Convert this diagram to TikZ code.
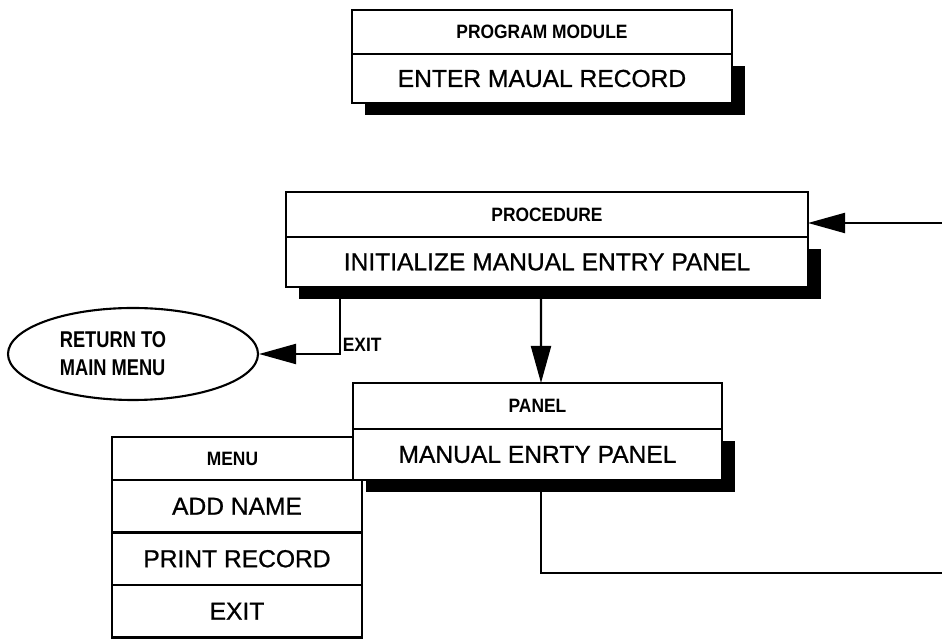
\documentclass[tikz,border=0pt]{standalone}
\usepackage{fontspec}
\setmainfont{Liberation Sans}[FakeBold=0.8]
\newfontfamily\capsbold[FakeStretch=0.9]{Liberation Sans}
\newfontfamily\ovalfont[FakeStretch=0.8]{Liberation Sans}
\usetikzlibrary{positioning,shapes.geometric,shadows,arrows.meta}

\begin{document}
\begin{tikzpicture}[
    hdr/.style={draw, fill=white, line width=1.2pt, outer sep=0pt, inner sep=0pt,
      font=\capsbold\bfseries\fontsize{11}{13}\selectfont},
    body/.style={draw, fill=white, line width=1.2pt, outer sep=0pt, inner sep=0pt,
      font=\fontsize{14}{16}\selectfont,
      drop shadow={shadow xshift=0.25cm, shadow yshift=-0.25cm, fill=black, opacity=1}},
    item/.style={draw, fill=white, line width=1.4pt, outer sep=0pt, inner sep=0pt,
      minimum width=5cm, minimum height=1.05cm, font=\fontsize{14}{16}\selectfont},
    link/.style={line width=1.2pt, -{Triangle[length=0.74cm,width=0.4cm]}}
  ]
			\useasboundingbox (0,0) rectangle (18.84,-12.8);
			% program module
			\node[hdr, anchor=north west, minimum width=7.6cm, minimum height=0.88cm] (pmhdr) at (7.04,-0.2) {PROGRAM MODULE};
			\node[body, below=0pt of pmhdr, minimum width=7.6cm, minimum height=0.98cm] (pmbody) {ENTER MAUAL RECORD};
			% procedure
			\node[hdr, anchor=north west, minimum width=10.44cm, minimum height=0.9cm] (prochdr) at (5.72,-3.84) {PROCEDURE};
			\node[body, below=0pt of prochdr, minimum width=10.44cm, minimum height=1cm] (procbody) {INITIALIZE MANUAL ENTRY PANEL};
			% panel
			\node[hdr, anchor=north west, minimum width=7.38cm, minimum height=0.92cm] (panelhdr) at (7.06,-7.66) {PANEL};
			\node[body, below=0pt of panelhdr, minimum width=7.38cm, minimum height=1.02cm] (panelbody) {MANUAL ENRTY PANEL};
			% menu
			\node[hdr, anchor=north west, minimum width=4.82cm, minimum height=0.86cm] (menuhdr) at (2.24,-8.74) {MENU};
			\node[item, anchor=north west] (addname) at (menuhdr.south west) {ADD NAME};
			\node[item, below=0pt of addname] (printrec) {PRINT RECORD};
			\node[item, below=0pt of printrec] (exititem) {EXIT};
			% return oval
			\node[draw, ellipse, line width=1.2pt, minimum width=5cm, minimum height=1.84cm, align=left,
			  font=\ovalfont\bfseries\fontsize{13}{16}\selectfont] (mainmenu) at (2.66,-7.08) {RETURN TO\hspace*{0.8cm}\\MAIN MENU};
			% connectors
			\draw[link] ([xshift=1.08cm]procbody.south west) |- (mainmenu.east)
			  node[pos=0.5, anchor=south west, inner sep=1pt, font=\capsbold\bfseries\fontsize{11}{13}\selectfont] (exitlbl) {EXIT};
			\draw[link] ([xshift=5.1cm]procbody.south west) -- ([xshift=3.76cm]panelhdr.north west);
			\coordinate (loopcorner) at (19.2,-11.46); % off the right edge
			\draw[link] ([xshift=3.76cm]panelbody.south west) |- (loopcorner) |- ([yshift=-0.17cm]prochdr.east);
\end{tikzpicture}
\end{document}
